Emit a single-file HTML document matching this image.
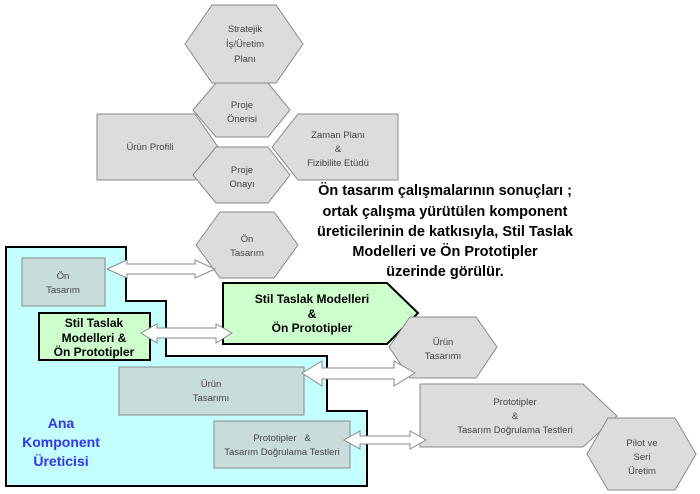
<!DOCTYPE html>
<html><head><meta charset="utf-8"><style>
html,body{margin:0;padding:0;background:#fff;}
svg{display:block;font-family:"Liberation Sans",Arial,sans-serif;}
.g{fill:#dcdcdc;stroke:#8a8a8a;stroke-width:1;}
.r{fill:#c9dcdc;stroke:#8a8a8a;stroke-width:1;}
.t{font-size:9.5px;fill:#444;text-anchor:middle;}
.b{font-size:12px;font-weight:bold;fill:#000;text-anchor:middle;}
.a{fill:#fff;stroke:#8a8a8a;stroke-width:1;}
</style></head><body>
<svg width="700" height="494" viewBox="0 0 700 494">
<!-- cyan region -->
<polygon points="6,247 126,247 126,301 166,301 166,356 327,356 327,411 367,411 367,486 6,486" fill="#c4ffff" stroke="#000" stroke-width="2"/>

<!-- top hexagons -->
<polygon class="g" points="185,44 212,5 276,5 303,44 276,83 212,83"/>
<text class="t" x="245" y="32">Stratejik</text>
<text class="t" x="245" y="47">İş/Üretim</text>
<text class="t" x="245" y="62">Planı</text>

<polygon class="g" points="193,110 216,83 268,83 290,110 268,137 216,137"/>
<text class="t" x="242" y="108">Proje</text>
<text class="t" x="242" y="122">Önerisi</text>

<polygon class="g" points="97,114 195,114 218,147 195,180 97,180"/>
<text class="t" x="150" y="150">Ürün Profili</text>

<polygon class="g" points="298,114 398,114 398,180 298,180 272,147"/>
<text class="t" x="338" y="138">Zaman Planı</text>
<text class="t" x="338" y="152">&amp;</text>
<text class="t" x="338" y="166">Fizibilite Etüdü</text>

<polygon class="g" points="193,175 216,147 268,147 290,175 268,203 216,203"/>
<text class="t" x="242" y="173">Proje</text>
<text class="t" x="242" y="187">Onayı</text>

<polygon class="g" points="196,245 220,212 274,212 298,245 274,278 220,278"/>
<text class="t" x="247" y="242">Ön</text>
<text class="t" x="247" y="256">Tasarım</text>

<!-- text block -->
<g class="b" style="font-size:14.5px">
<text x="445" y="195">Ön tasarım çalışmalarının sonuçları ;</text>
<text x="445" y="216">ortak çalışma yürütülen komponent</text>
<text x="445" y="236">üreticilerinin de katkısıyla, Stil Taslak</text>
<text x="445" y="256">Modelleri ve Ön Prototipler</text>
<text x="445" y="276">üzerinde görülür.</text>
</g>

<!-- inner boxes -->
<rect class="r" x="22" y="258" width="83" height="48"/>
<text class="t" x="63" y="279">Ön</text>
<text class="t" x="63" y="293">Tasarım</text>

<rect x="39" y="313" width="111" height="47" fill="#ccffcc" stroke="#000" stroke-width="2"/>
<text class="b" x="94" y="327">Stil Taslak</text>
<text class="b" x="94" y="342">Modelleri &amp;</text>
<text class="b" x="94" y="356">Ön Prototipler</text>

<rect class="r" x="119" y="367" width="185" height="48"/>
<text class="t" x="211" y="387">Ürün</text>
<text class="t" x="211" y="401">Tasarımı</text>

<rect class="r" x="214" y="421" width="136" height="47"/>
<text class="t" x="282" y="441">Prototipler &#160; &amp;</text>
<text class="t" x="282" y="455">Tasarım Doğrulama Testleri</text>

<g style="font-size:14px;font-weight:bold;fill:#3333ff;text-anchor:middle">
<text x="61" y="428">Ana</text>
<text x="61" y="447">Komponent</text>
<text x="61" y="466">Üreticisi</text>
</g>

<!-- green arrow -->
<polygon points="223,283 387,283 418,313 387,344 223,344" fill="#ccffcc" stroke="#000" stroke-width="2"/>
<text class="b" x="312" y="303">Stil Taslak Modelleri</text>
<text class="b" x="312" y="318">&amp;</text>
<text class="b" x="312" y="332">Ön Prototipler</text>

<!-- right shapes -->
<polygon class="g" points="389,347 410,317 476,317 497,347 476,378 410,378"/>
<text class="t" x="443" y="345">Ürün</text>
<text class="t" x="443" y="359">Tasarımı</text>

<polygon class="g" points="420,384 583,384 617,416 583,447 420,447"/>
<text class="t" x="515" y="405">Prototipler</text>
<text class="t" x="515" y="419">&amp;</text>
<text class="t" x="515" y="433">Tasarım Doğrulama Testleri</text>

<polygon class="g" points="587,454 608,418 675,418 696,454 675,490 608,490"/>
<text class="t" x="642" y="446">Pilot ve</text>
<text class="t" x="642" y="460">Seri</text>
<text class="t" x="642" y="474">Üretim</text>

<!-- double arrows -->
<polygon class="a" points="107,269 127,260 127,264 195,264 195,260 215,269 195,278 195,274 127,274 127,278"/>
<polygon class="a" points="141,333 157,324 157,328 216,328 216,324 232,333 216,343 216,338 157,338 157,343"/>
<polygon class="a" points="302,373 322,361 322,368 394,368 394,361 415,373 394,386 394,379 322,379 322,386"/>
<polygon class="a" points="344,440 360,431 360,436 410,436 410,431 426,440 410,449 410,444 360,444 360,449"/>
</svg>
</body></html>
